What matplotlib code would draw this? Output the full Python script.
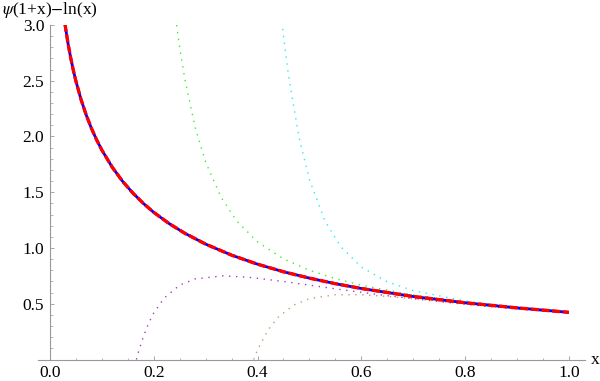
import matplotlib
matplotlib.use('Agg')
import matplotlib.pyplot as plt
from matplotlib.ticker import FixedLocator, MultipleLocator

plt.rcParams['font.family'] = ['Liberation Serif', 'DejaVu Serif']
plt.rcParams['mathtext.fontset'] = 'stix'

# exact curve psi(1+x) - ln(x)
x_exact = [0.029, 0.03, 0.035, 0.04, 0.045, 0.05, 0.06, 0.07, 0.08, 0.09, 0.10,
           0.12, 0.14, 0.16, 0.18, 0.20, 0.23, 0.26, 0.30, 0.35, 0.40, 0.45,
           0.50, 0.55, 0.60, 0.70, 0.80, 0.90, 1.00]
y_exact = [3.010, 2.978, 2.831, 2.706, 2.596, 2.498, 2.331, 2.192, 2.073, 1.970, 1.879,
           1.725, 1.598, 1.492, 1.400, 1.320, 1.218, 1.132, 1.035, 0.936, 0.855, 0.787,
           0.730, 0.680, 0.637, 0.565, 0.509, 0.463, 0.423]

# green dotted (three-term expansion)
x_green = [0.244, 0.25, 0.26, 0.28, 0.30, 0.33, 0.36, 0.40, 0.45, 0.50, 0.55,
           0.60, 0.70, 0.80, 0.90, 1.00]
y_green = [3.000, 2.800, 2.514, 2.079, 1.770, 1.453, 1.242, 1.055, 0.903, 0.800, 0.725,
           0.666, 0.579, 0.515, 0.465, 0.425]

# purple dotted (two-term expansion)
x_purple = [0.1667, 0.17, 0.18, 0.19, 0.20, 0.22, 0.25, 0.28, 0.3333, 0.38, 0.45,
            0.55, 0.65, 0.75, 0.85, 1.00]
y_purple = [0.000, 0.058, 0.206, 0.323, 0.417, 0.551, 0.667, 0.723, 0.750, 0.739, 0.700,
            0.634, 0.572, 0.519, 0.473, 0.417]

# brown dotted (four-term expansion)
x_brown = [0.3928, 0.393, 0.40, 0.42, 0.44, 0.47, 0.50, 0.55, 0.60, 0.65, 0.70,
           0.80, 0.90, 1.00]
y_brown = [0.000, 0.005, 0.086, 0.263, 0.381, 0.489, 0.546, 0.581, 0.581, 0.566, 0.545,
           0.500, 0.458, 0.421]

# cyan dotted (five-term expansion)
x_cyan = [0.447, 0.448, 0.45, 0.46, 0.48, 0.50, 0.53, 0.56, 0.60, 0.65, 0.70,
          0.80, 0.90, 1.00]
y_cyan = [3.027, 2.985, 2.903, 2.539, 1.991, 1.613, 1.243, 1.014, 0.829, 0.697, 0.618,
          0.525, 0.468, 0.425]

fig = plt.figure(figsize=(6, 3.81), dpi=100)
ax = fig.add_axes([0.0633, 0.0564, 0.9117, 0.878])

dot = (0, (1, 4))
ax.plot(x_purple, y_purple, color='#a040b8', lw=1.0, ls=dot)
ax.plot(x_brown, y_brown, color='#c89a6a', lw=1.0, ls=dot)
ax.plot(x_green, y_green, color='#33ee33', lw=1.0, ls=dot)
ax.plot(x_cyan, y_cyan, color='#22eeee', lw=1.0, ls=dot)
ax.plot(x_exact, y_exact, color='blue', lw=2.0, solid_capstyle='butt')
ax.plot(x_exact, y_exact, color='red', lw=2.4, ls=(0, (2.4, 0.8)), dash_capstyle='butt')

ax.set_xlim(-0.023, 1.031)
ax.set_ylim(0, 3.0)

for s in ['top', 'right']:
    ax.spines[s].set_visible(False)
ax.spines['left'].set_position(('data', 0))
ax.spines['left'].set_color('#999999')
ax.spines['bottom'].set_color('#999999')
ax.spines['left'].set_linewidth(0.8)
ax.spines['bottom'].set_linewidth(0.8)

ax.xaxis.set_major_locator(FixedLocator([0.0, 0.2, 0.4, 0.6, 0.8, 1.0]))
ax.xaxis.set_minor_locator(MultipleLocator(0.05))
ax.yaxis.set_major_locator(FixedLocator([0.5, 1.0, 1.5, 2.0, 2.5, 3.0]))
ax.yaxis.set_minor_locator(MultipleLocator(0.1))
ax.set_xticklabels(['0.0', '0.2', '0.4', '0.6', '0.8', '1.0'])
ax.set_yticklabels(['0.5', '1.0', '1.5', '2.0', '2.5', '3.0'])

ax.tick_params(which='major', direction='in', length=3.2, width=0.6, color='#999999',
               labelsize=12.5, pad=4)
ax.tick_params(which='minor', direction='in', length=1.8, width=0.5, color='#999999')

ax.annotate('x', xy=(1, 0), xycoords='axes fraction', xytext=(4, 0),
            textcoords='offset points', ha='left', va='center', fontsize=12.5)
fig.text(0.003, 1 - 14 / 381, r'$\psi$(1+x)$-$ln(x)', fontsize=12.5, ha='left', va='baseline')

fig.savefig('out.png', dpi=100)
